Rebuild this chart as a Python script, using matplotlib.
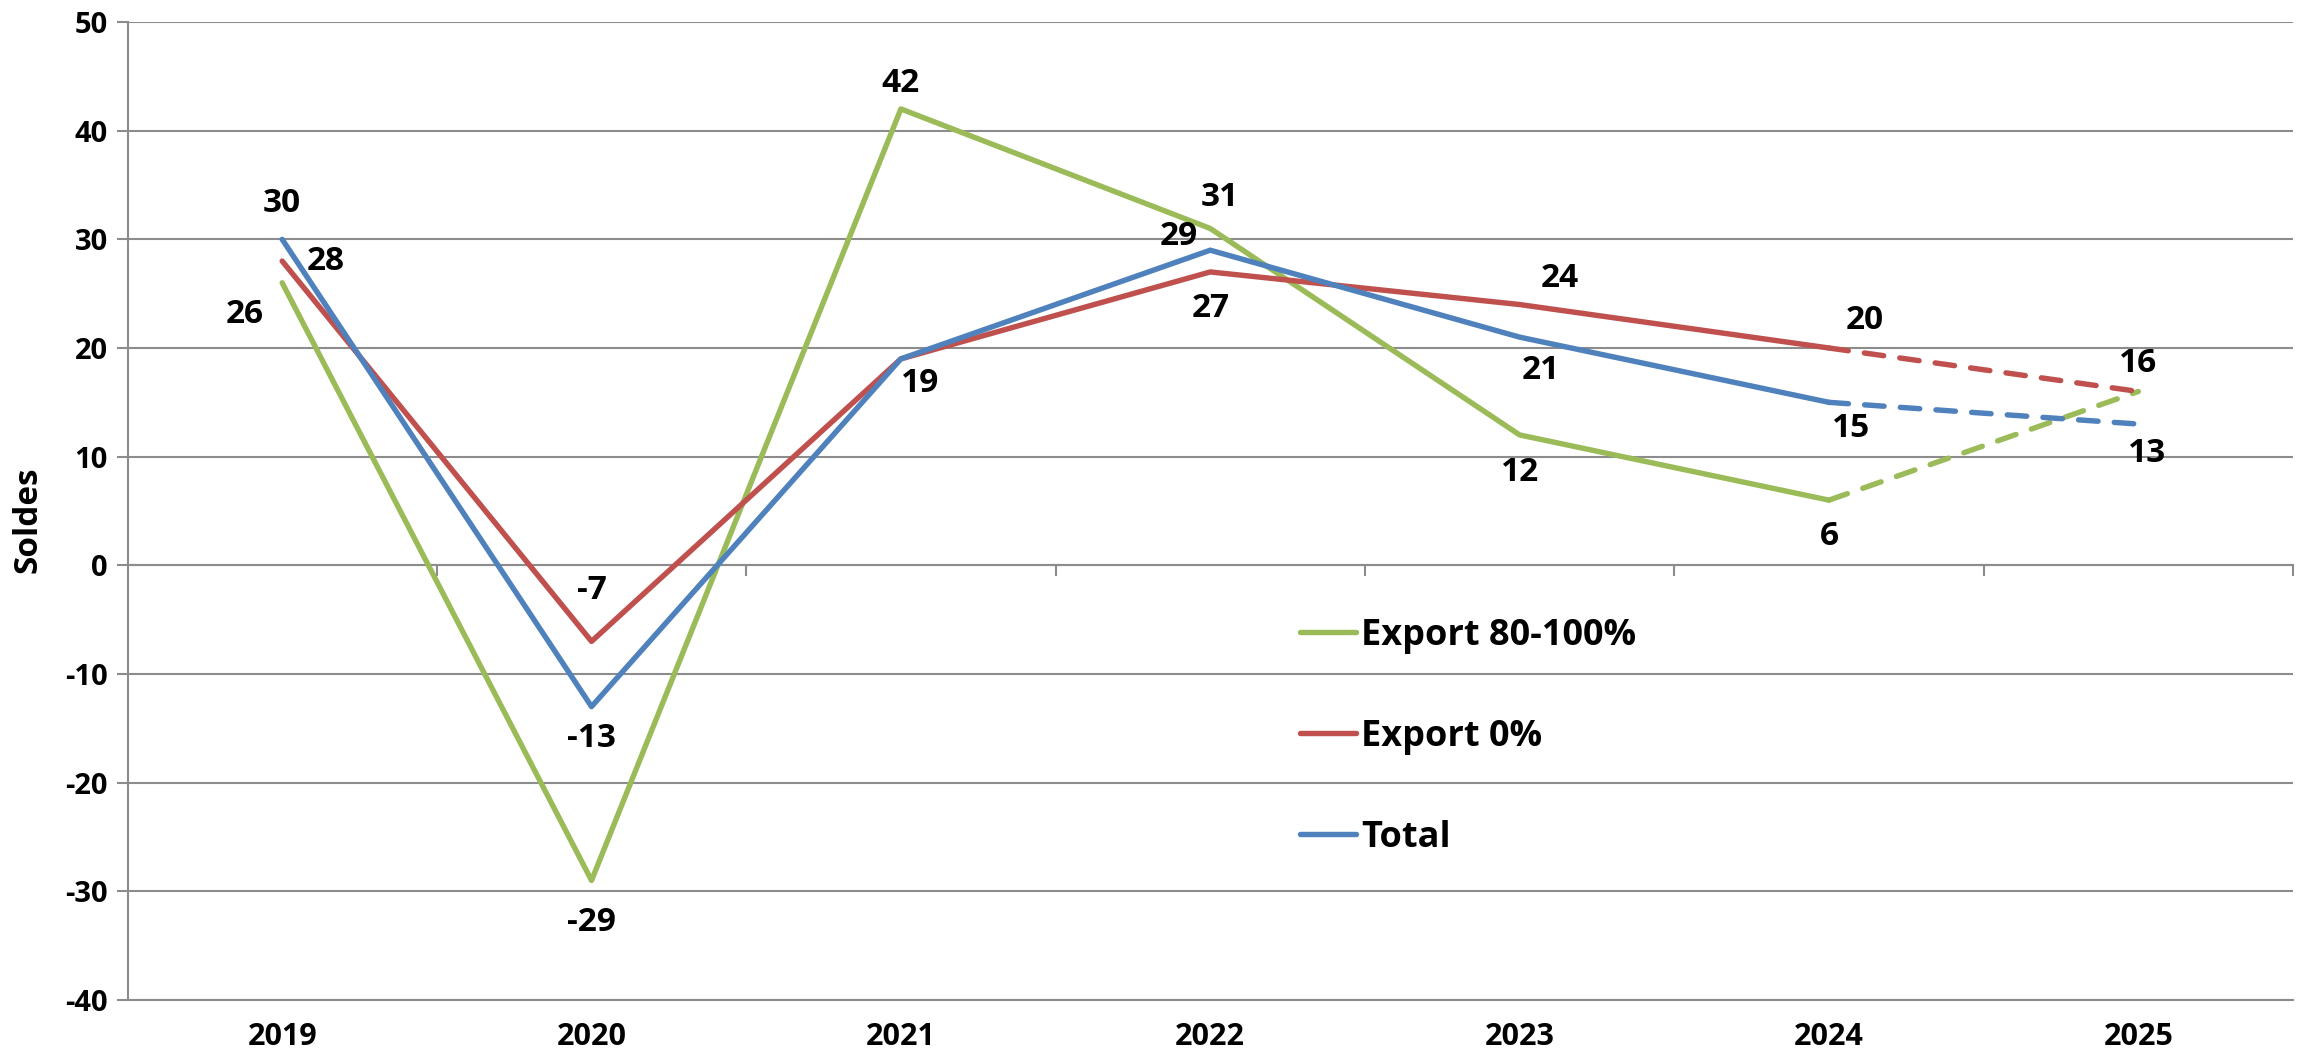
import matplotlib
matplotlib.use("Agg")
import matplotlib.pyplot as plt
from matplotlib.lines import Line2D

plt.rcParams['font.family'] = ['Open Sans', 'DejaVu Sans']
plt.rcParams['font.weight'] = 'bold'
plt.rcParams['axes.unicode_minus'] = False

years = ['2019', '2020', '2021', '2022', '2023', '2024', '2025']
series_names = ['Export 80-100%', 'Export 0%', 'Total']
export_80_100 = [26, -29, 42, 31, 12, 6, 16]
export_0 = [28, -7, 19, 27, 24, 20, 16]
total = [30, -13, 19, 29, 21, 15, 13]
forecast_start = 5  # dashed from 2024 to 2025

colors = ['#9BBB59', '#C0504D', '#4F81BD']
series_values = [export_80_100, export_0, total]

# label offsets in points (dx, dy)
label_offsets = [
    [(-27, -23), (0, -30), (0, 18), (7, 22), (0, -27), (0, -26), (0, 20)],
    [(31, 0), (0, 37), (14, -18), (0, -26), (29, 19), (26, 20), (0, 20)],
    [(0, 26), (0, -23), (14, -18), (-23, 10), (15, -24), (16, -19), (6, -21)],
]

W, H = 2297, 1055
fig = plt.figure(figsize=(W / 100, H / 100), dpi=100)
ax = fig.add_axes([127.5 / W, 1 - 1000 / H, (2293 - 127.5) / W, (1000 - 22) / H])

grid_c = '#8C8C8C'
x = list(range(len(years)))
lw = 3.9
for vals, col in zip(series_values, colors):
    ax.plot(x[:forecast_start + 1], vals[:forecast_start + 1], color=col, lw=lw,
            solid_capstyle='round', solid_joinstyle='round', zorder=3)
    ax.plot(x[forecast_start:], vals[forecast_start:], color=col, lw=lw,
            dashes=(3.6, 3.0), dash_capstyle='round', zorder=3)

labeled = set()
for vals, offs in zip(series_values, label_offsets):
    for i, (v, off) in enumerate(zip(vals, offs)):
        if (i, v) in labeled:
            continue
        labeled.add((i, v))
        ax.annotate(f'{v}', (i, v), xytext=off, textcoords='offset points',
                    ha='center', va='center', fontsize=24, fontweight='bold',
                    color='black', zorder=4)

ax.set_xlim(-0.5, len(years) - 0.5)
ax.set_ylim(-40, 50)
ax.set_yticks(range(-40, 51, 10))
ax.yaxis.grid(True, color=grid_c, lw=1.5)
ax.set_axisbelow(True)
ax.tick_params(axis='y', length=8, width=1.5, color=grid_c, labelsize=21, pad=6)
for t in ax.get_yticklabels():
    t.set_fontweight('bold')

ax.set_xticks(x)
ax.set_xticklabels(years, fontsize=22, fontweight='bold')
ax.tick_params(axis='x', length=0, pad=16)

for s in ['top', 'right']:
    ax.spines[s].set_visible(False)
ax.spines['left'].set_color(grid_c)
ax.spines['left'].set_linewidth(1.5)
ax.spines['bottom'].set_color(grid_c)
ax.spines['bottom'].set_linewidth(1.5)

# zero axis with category boundary ticks
sec = ax.secondary_xaxis(40 / 90)
sec.set_xticks([i - 0.5 for i in range(1, len(years) + 1)])
sec.tick_params(axis='x', direction='out', length=8, width=1.5, color=grid_c, labelbottom=False)
sec.set_xticklabels([])
sec.spines['bottom'].set_color(grid_c)
sec.spines['bottom'].set_linewidth(1.5)

ax.set_ylabel('Soldes', fontsize=24, fontweight='bold')
ax.yaxis.set_label_coords(0, 0.5)
ax.yaxis.label.set_transform(fig.transFigure)
ax.yaxis.label.set_position((28 / W, 1 - 520 / H))
ax.yaxis.label.set_verticalalignment('center')

handles = [Line2D([0], [0], color=c, lw=lw, solid_capstyle='round') for c in colors]
leg = fig.legend(handles, series_names, loc='center left',
                 bbox_to_anchor=(1300 / W, 1 - 737 / H), frameon=False,
                 fontsize=26, handlelength=1.55, handletextpad=0.15,
                 labelspacing=1.8, borderpad=0, borderaxespad=0)
for t in leg.get_texts():
    t.set_fontweight('bold')

fig.savefig('out.png', dpi=100)
